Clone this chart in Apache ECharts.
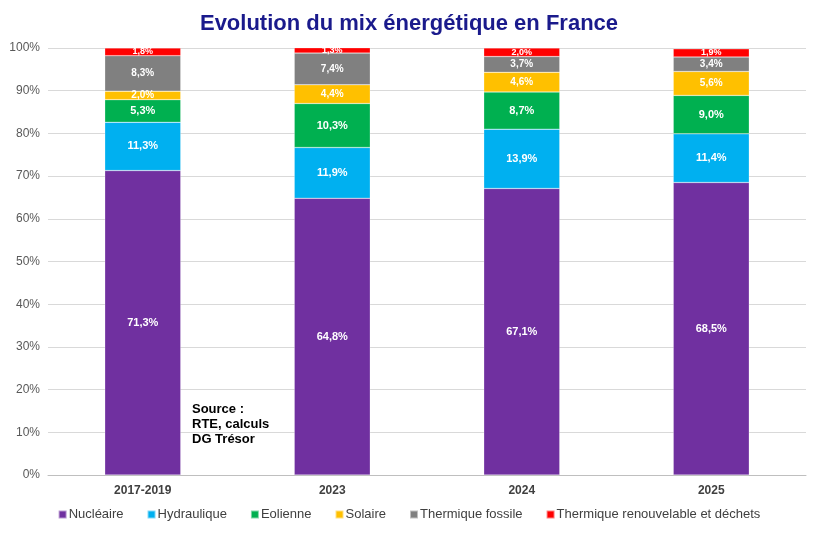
<!DOCTYPE html>
<html><head><meta charset="utf-8">
<script src="https://cdn.jsdelivr.net/npm/echarts@6/dist/echarts.min.js"></script>
<style>html,body{margin:0;padding:0;background:#fff}#c{width:818px;height:533px}</style>
</head><body><div id="c"></div>
<script>
const categories = ['2017-2019', '2023', '2024', '2025'];
const nucleaire = [71.3, 64.8, 67.1, 68.5];
const hydraulique = [11.3, 11.9, 13.9, 11.4];
const eolienne = [5.3, 10.3, 8.7, 9.0];
const solaire = [2.0, 4.4, 4.6, 5.6];
const thermiqueFossile = [8.3, 7.4, 3.7, 3.4];
const thermiqueRenouv = [1.8, 1.3, 2.0, 1.9];
const yTicks = [0, 10, 20, 30, 40, 50, 60, 70, 80, 90, 100];

const seriesDefs = [
  ['Nucléaire', nucleaire, '#7030A0', 11],
  ['Hydraulique', hydraulique, '#00B0F0', 11],
  ['Eolienne', eolienne, '#00B050', 11],
  ['Solaire', solaire, '#FFC000', 10],
  ['Thermique fossile', thermiqueFossile, '#808080', 10],
  ['Thermique renouvelable et déchets', thermiqueRenouv, '#FF0000', 9]
];

const chart = echarts.init(document.getElementById('c'));
chart.setOption({
  animation: false,
  title: {
    text: 'Evolution du mix énergétique en France',
    left: 'center', top: 8,
    textStyle: { fontFamily: 'Liberation Sans, Arial', fontSize: 22, fontWeight: 'bold', color: '#1a1a8c' }
  },
  grid: { left: 48, right: 12, top: 48, bottom: 58 },
  legend: {
    bottom: 7, left: 'center', itemWidth: 8, itemHeight: 8, itemGap: 23,
    icon: 'rect',
    textStyle: { fontFamily: 'Liberation Sans, Arial', fontSize: 13, color: '#404040', padding: [0, 0, 0, -3] },
    data: seriesDefs.map(d => d[0])
  },
  xAxis: {
    type: 'category', data: categories,
    axisLine: { lineStyle: { color: '#bfbfbf' } },
    axisTick: { show: false },
    axisLabel: { fontFamily: 'Liberation Sans, Arial', fontSize: 12, fontWeight: 'bold', color: '#404040', margin: 10 }
  },
  yAxis: {
    type: 'value', min: 0, max: 100, interval: 10,
    axisLabel: { formatter: v => v + '%', fontFamily: 'Liberation Sans, Arial', fontSize: 12, color: '#595959', margin: 8 },
    splitLine: { lineStyle: { color: '#d9d9d9', width: 1 } },
    axisLine: { show: false }, axisTick: { show: false }
  },
  graphic: [{
    type: 'text', left: 192, top: 402,
    style: { text: 'Source :\nRTE, calculs\nDG Trésor', font: 'bold 13px Liberation Sans, Arial', fill: '#000', lineHeight: 15 }
  }],
  series: seriesDefs.map(d => ({
    name: d[0], type: 'bar', stack: 'mix', data: d[1], barWidth: 76,
    itemStyle: { color: d[2], borderColor: 'rgba(255,255,255,0.5)', borderWidth: 0.5 },
    label: {
      show: true, position: 'inside', color: '#fff', fontWeight: 'bold',
      fontFamily: 'Liberation Sans, Arial', fontSize: d[3],
      formatter: p => p.value.toFixed(1).replace('.', ',') + '%'
    }
  }))
});
</script></body></html>
